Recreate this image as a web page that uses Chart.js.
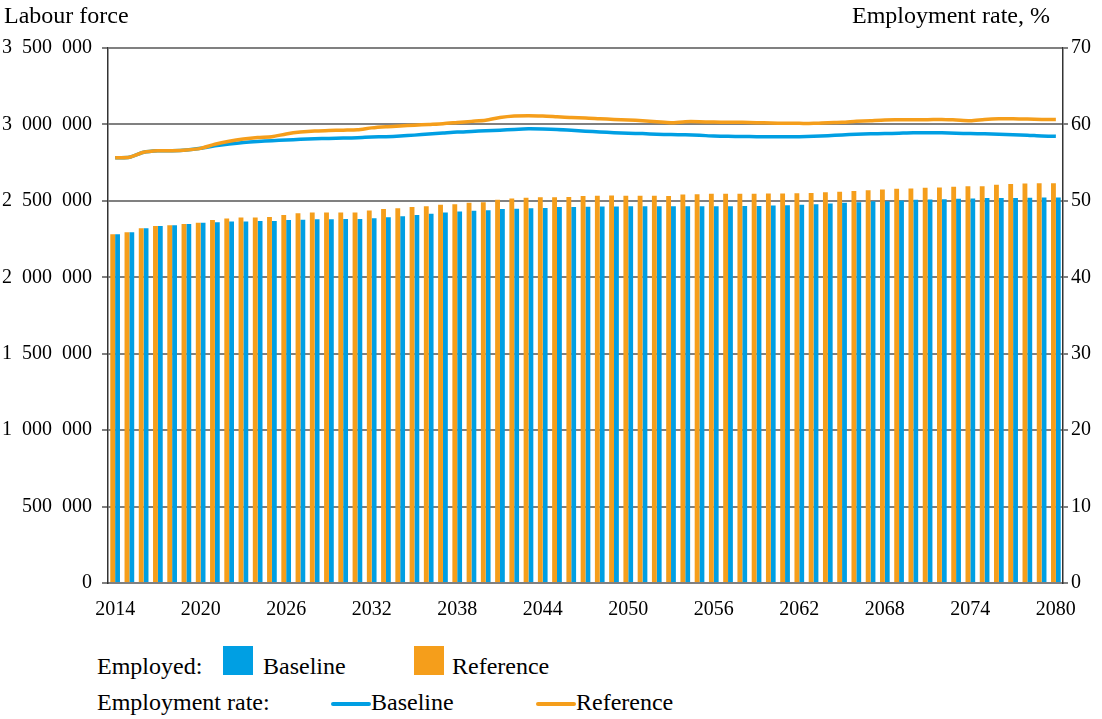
<!DOCTYPE html>
<html>
<head>
<meta charset="utf-8">
<script src="https://cdn.jsdelivr.net/npm/chart.js@4.4.1/dist/chart.umd.min.js"></script>
<style>
  body { margin: 0; background: #fff; font-family: "Liberation Serif", "Times New Roman", serif; color: #000; }
  #wrap { position: relative; width: 1102px; height: 719px; }
  #chart { position: absolute; left: 0; top: 0; }
  .txt { position: absolute; font-size: 24px; white-space: nowrap; line-height: 24px; }
  .box { position: absolute; width: 30px; height: 29px; }
  .ln { position: absolute; width: 40px; height: 4px; border-radius: 2px; }
</style>
</head>
<body>
<div id="wrap">
  <canvas id="chart" width="1102" height="640"></canvas>
  <div class="txt" style="left:4px; top:3px;">Labour force</div>
  <div class="txt" style="left:852px; top:3px;">Employment rate, %</div>

  <div class="txt" style="left:97px; top:654px;">Employed:</div>
  <div class="box" style="left:223px; top:646px; background:#009fe3;"></div>
  <div class="txt" style="left:263px; top:654px;">Baseline</div>
  <div class="box" style="left:414px; top:646px; background:#f59e1b;"></div>
  <div class="txt" style="left:452px; top:654px;">Reference</div>

  <div class="txt" style="left:97px; top:690px;">Employment rate:</div>
  <div class="ln" style="left:331px; top:702px; background:#009fe3;"></div>
  <div class="txt" style="left:371px; top:690px;">Baseline</div>
  <div class="ln" style="left:536px; top:702px; background:#f59e1b;"></div>
  <div class="txt" style="left:576px; top:690px;">Reference</div>
</div>
<script>
const years = [];
for (let y = 2014; y <= 2080; y++) years.push(String(y));

// employed persons, thousands
const employedBaseline = [
  2282, 2295, 2321, 2336, 2341, 2349, 2356, 2360, 2365, 2365,
  2369, 2369, 2374, 2376, 2380, 2380, 2382, 2382, 2387, 2393,
  2400, 2408, 2415, 2424, 2430, 2435, 2439, 2446, 2448, 2452,
  2454, 2459, 2459, 2461, 2463, 2463, 2465, 2465, 2465, 2465,
  2465, 2465, 2465, 2465, 2467, 2467, 2469, 2472, 2474, 2478,
  2482, 2487, 2491, 2498, 2498, 2502, 2507, 2509, 2511, 2513,
  2515, 2518, 2518, 2518, 2520, 2522, 2522
];
const employedReference = [
  2282, 2295, 2321, 2336, 2341, 2349, 2356, 2374, 2384, 2391,
  2391, 2395, 2408, 2419, 2424, 2424, 2424, 2424, 2437, 2446,
  2452, 2459, 2465, 2474, 2478, 2487, 2491, 2507, 2515, 2520,
  2524, 2524, 2526, 2531, 2533, 2535, 2533, 2533, 2533, 2531,
  2541, 2544, 2546, 2546, 2546, 2546, 2548, 2548, 2550, 2552,
  2557, 2559, 2565, 2570, 2574, 2579, 2581, 2585, 2587, 2592,
  2596, 2596, 2605, 2611, 2613, 2616, 2616
];

// employment rate, %
const rateBaseline = [
  55.65, 55.7, 56.35, 56.55, 56.56, 56.65, 56.87, 57.2, 57.45, 57.65,
  57.78, 57.87, 57.96, 58.05, 58.12, 58.17, 58.22, 58.26, 58.35, 58.4,
  58.48, 58.6, 58.74, 58.87, 59.0, 59.08, 59.17, 59.25, 59.35, 59.42,
  59.4, 59.35, 59.25, 59.12, 59.02, 58.92, 58.84, 58.8, 58.72, 58.68,
  58.64, 58.58, 58.48, 58.45, 58.42, 58.4, 58.4, 58.4, 58.4, 58.44,
  58.52, 58.62, 58.72, 58.78, 58.8, 58.86, 58.92, 58.92, 58.9, 58.85,
  58.8, 58.78, 58.72, 58.66, 58.6, 58.5, 58.45
];
const rateReference = [
  55.65, 55.7, 56.35, 56.55, 56.56, 56.65, 56.87, 57.4, 57.8, 58.1,
  58.3, 58.4, 58.75, 59.0, 59.15, 59.2, 59.25, 59.3, 59.55, 59.7,
  59.8, 59.9, 60.0, 60.1, 60.25, 60.4, 60.55, 60.9, 61.1, 61.15,
  61.1, 61.0, 60.9, 60.85, 60.75, 60.66, 60.58, 60.49, 60.36, 60.23,
  60.36, 60.36, 60.31, 60.27, 60.27, 60.23, 60.18, 60.14, 60.14, 60.14,
  60.23, 60.27, 60.4, 60.49, 60.58, 60.6, 60.62, 60.62, 60.66, 60.58,
  60.49, 60.66, 60.75, 60.75, 60.7, 60.66, 60.66
];

const blue = "#009fe3";
const orange = "#f59e1b";
const font = { family: "'Liberation Serif', 'Times New Roman', serif", size: 20 };

function spaced(n) {
  return String(n).replace(/\B(?=(\d{3})+(?!\d))/g, "\u2002");
}

const ctx = document.getElementById("chart").getContext("2d");

new Chart(ctx, {
  data: {
    labels: years,
    datasets: [
      {
        type: "line", label: "Baseline rate", data: rateBaseline, yAxisID: "y1",
        borderColor: blue, borderWidth: 3.5, pointRadius: 0, tension: 0.25, order: 1
      },
      {
        type: "line", label: "Reference rate", data: rateReference, yAxisID: "y1",
        borderColor: orange, borderWidth: 3.5, pointRadius: 0, tension: 0.25, order: 0
      },
      {
        type: "bar", label: "Baseline", data: employedBaseline.map(v => v * 1000), yAxisID: "y",
        backgroundColor: blue, categoryPercentage: 0.68, barPercentage: 1.0, order: 3
      },
      {
        type: "bar", label: "Reference", data: employedReference.map(v => v * 1000), yAxisID: "y",
        backgroundColor: orange, categoryPercentage: 0.68, barPercentage: 1.0, order: 2
      }
    ]
  },
  options: {
    responsive: false,
    animation: false,
    layout: { padding: { top: 48, bottom: 0, left: 0, right: 0 } },
    plugins: { legend: { display: false }, tooltip: { enabled: false } },
    scales: {
      x: {
        grid: { display: false, drawTicks: false },
        border: { display: true, color: "#808080", width: 2 },
        ticks: {
          autoSkip: false, maxRotation: 0, color: "#000", font: font, padding: 15,
          callback: function (val, i) { return i % 6 === 0 ? this.getLabelForValue(val) : null; }
        },
        afterFit: s => { s.height = 57; }
      },
      y: {
        position: "left", min: 0, max: 3500000,
        grid: { color: "#808080", lineWidth: 2, tickLength: 6 },
        border: { display: true, color: "#333", width: 1.5 },
        ticks: { stepSize: 500000, color: "#000", font: font, padding: 10, callback: v => spaced(v) },
        afterFit: s => { s.width = 108; }
      },
      y1: {
        position: "right", min: 0, max: 70,
        grid: { drawOnChartArea: false, color: "#808080", lineWidth: 2, tickLength: 5 },
        border: { display: true, color: "#333", width: 1.5 },
        ticks: { stepSize: 10, color: "#000", font: font, padding: 3 },
        afterFit: s => { s.width = 39; }
      }
    }
  }
});
</script>
</body>
</html>
